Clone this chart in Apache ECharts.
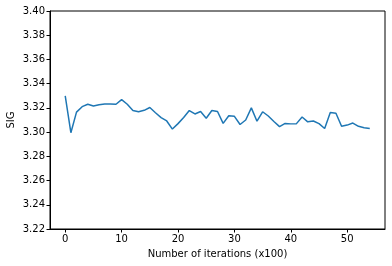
<!DOCTYPE html>
<html>
<head>
<meta charset="utf-8">
<script src="https://cdn.jsdelivr.net/npm/echarts@6/dist/echarts.min.js"></script>
<style>
html,body{margin:0;padding:0;background:#fff;}
#chart{width:392px;height:266px;}
</style>
</head>
<body>
<div id="chart"></div>
<script>
var iterations = [];
for (var i = 0; i <= 54; i++) iterations.push(i);
var sigValues = [
  3.3300, 3.2995, 3.3165, 3.3210, 3.3230, 3.3215, 3.3226, 3.3232, 3.3232, 3.3230,
  3.3268, 3.3230, 3.3178, 3.3168, 3.3180, 3.3203, 3.3160, 3.3120, 3.3092, 3.3025,
  3.3070, 3.3120, 3.3178, 3.3150, 3.3170, 3.3115, 3.3178, 3.3170, 3.3072, 3.3135,
  3.3130, 3.3063, 3.3100, 3.3200, 3.3090, 3.3168, 3.3133, 3.3088, 3.3045, 3.3072,
  3.3068, 3.3070, 3.3125, 3.3085, 3.3092, 3.3070, 3.3030, 3.3162, 3.3156, 3.3048,
  3.3058, 3.3075, 3.3048, 3.3036, 3.3030
];
var xTicks = [0, 10, 20, 30, 40, 50];
var xLabel = 'Number of iterations (x100)';
var yLabel = 'SIG';

var chart = echarts.init(document.getElementById('chart'), null, {renderer: 'canvas'});
var font = 'DejaVu Sans';
chart.setOption({
  animation: false,
  backgroundColor: '#fff',
  grid: {left: 50, right: 7, top: 11, bottom: 37, containLabel: false, outerBoundsMode: 'none',
         show: true, borderColor: '#000', borderWidth: 1, backgroundColor: 'transparent'},
  xAxis: {
    type: 'value', min: -2.7, max: 56.7,
    name: xLabel, nameLocation: 'middle', nameGap: 20, nameMoveOverlap: false,
    nameTextStyle: {fontFamily: font, fontSize: 10, color: '#000'},
    axisLine: {show: true, onZero: false, lineStyle: {color: '#000', width: 1}},
    axisTick: {show: true, length: 3.5, inside: false, customValues: xTicks, lineStyle: {color: '#000'}},
    axisLabel: {customValues: xTicks, margin: 5, fontFamily: font, fontSize: 10, color: '#000'},
    splitLine: {show: false}
  },
  yAxis: {
    type: 'value', min: 3.22, max: 3.40, interval: 0.02,
    name: yLabel, nameLocation: 'middle', nameGap: 34, nameMoveOverlap: false,
    nameTextStyle: {fontFamily: font, fontSize: 10, color: '#000'},
    axisLine: {show: true, onZero: false, lineStyle: {color: '#000', width: 1}},
    axisTick: {show: true, length: 3.5, lineStyle: {color: '#000'}},
    axisLabel: {margin: 5, fontFamily: font, fontSize: 10, color: '#000', formatter: function (v) { return v.toFixed(2); }},
    splitLine: {show: false}
  },
  series: [{
    type: 'line',
    data: iterations.map(function (x, i) { return [x, sigValues[i]]; }),
    showSymbol: false,
    lineStyle: {color: '#1f77b4', width: 1.5},
    itemStyle: {color: '#1f77b4'}
  }]
});
</script>
</body>
</html>
